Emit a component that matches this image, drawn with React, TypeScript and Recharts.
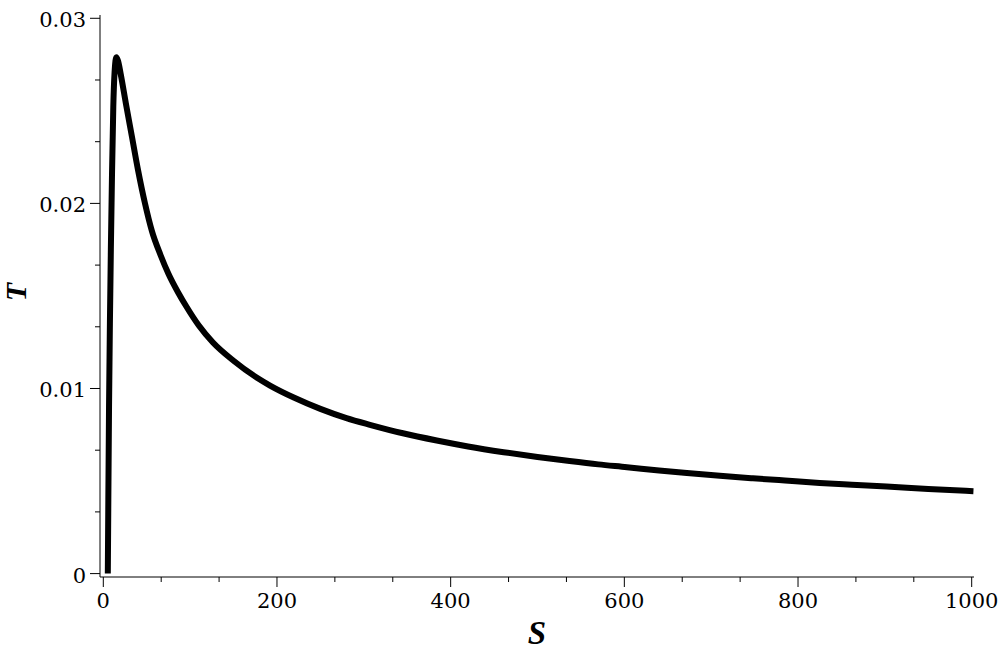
import React from "react";
import { LineChart, Line, XAxis, YAxis } from "recharts";

const sValues = [
  5.2, 5.8, 6.6, 7.6, 8.7, 10, 11.5, 13, 15, 17, 20, 26, 33, 40, 48, 56, 66, 75, 86,
  96, 110, 126, 150, 177, 192, 220, 250, 280, 307, 345, 384, 420, 461, 500, 537, 570,
  603, 640, 672, 710, 748, 785, 825, 862, 902, 950, 1002,
];
const tValues = [
  0, 0.004, 0.009, 0.0135, 0.0175, 0.0215, 0.0252, 0.0271, 0.0279, 0.0277, 0.027,
  0.0254, 0.0236, 0.0218, 0.02, 0.0185, 0.0172, 0.0162, 0.0152, 0.0144, 0.0134, 0.0125,
  0.0115, 0.01058, 0.01016, 0.0095, 0.0089, 0.0084, 0.00804, 0.00758, 0.00719, 0.00687,
  0.00656, 0.0063, 0.00608, 0.0059, 0.00575, 0.00557, 0.00543, 0.00528, 0.00515,
  0.00503, 0.0049, 0.0048, 0.0047, 0.00457, 0.00445,
];

const xMajorTicks = [0, 200, 400, 600, 800, 1000];
const yMajorTicks = [0, 0.01, 0.02, 0.03];
const yTickLabels = ["0", "0.01", "0.02", "0.03"];
const xTickLabels = ["0", "200", "400", "600", "800", "1000"];
const minorPerMajor = 3;

const xDomain: [number, number] = [-3.8, 1002.65];
const yDomain: [number, number] = [-0.000184, 0.030178];

const data = sValues.map((s, i) => ({ s, t: tValues[i] }));

function withMinor(majors: number[]): number[] {
  const out: number[] = [];
  for (let i = 0; i < majors.length; i++) {
    out.push(majors[i]);
    if (i < majors.length - 1) {
      const step = (majors[i + 1] - majors[i]) / minorPerMajor;
      for (let k = 1; k < minorPerMajor; k++) out.push(majors[i] + step * k);
    }
  }
  return out;
}

const xTicks = withMinor(xMajorTicks);
const yTicks = withMinor(yMajorTicks);

const TICK_FONT = "'DejaVu Serif', 'Liberation Serif', serif";
const TITLE_FONT = "'Liberation Serif', 'Times New Roman', serif";

function majorIndex(v: number, majors: number[]): number {
  const span = majors[majors.length - 1] - majors[0];
  for (let i = 0; i < majors.length; i++) {
    if (Math.abs(majors[i] - v) < span * 1e-6) return i;
  }
  return -1;
}

const XTick = (props: any) => {
  const { x, y, payload } = props;
  const idx = majorIndex(payload.value, xMajorTicks);
  const major = idx >= 0;
  return (
    <g>
      <line x1={x} y1={y} x2={x} y2={y + (major ? 10 : 5)} stroke="#000" strokeWidth={1} />
      {major && (
        <text
          x={x}
          y={y + 31}
          textAnchor="middle"
          fontFamily={TICK_FONT}
          fontSize={21}
          fill="#000"
        >
          {xTickLabels[idx]}
        </text>
      )}
    </g>
  );
};

const YTick = (props: any) => {
  const { x, y, payload } = props;
  const idx = majorIndex(payload.value, yMajorTicks);
  const major = idx >= 0;
  return (
    <g>
      <line x1={x} y1={y} x2={x - (major ? 10 : 5)} y2={y} stroke="#000" strokeWidth={1} />
      {major && (
        <text
          x={x - 14}
          y={y + 9}
          textAnchor="end"
          fontFamily={TICK_FONT}
          fontSize={21}
          fill="#000"
        >
          {yTickLabels[idx]}
        </text>
      )}
    </g>
  );
};

export default function App() {
  return (
    <div style={{ position: "absolute", left: 0, top: 0, width: 1000, height: 657, background: "#fff" }}>
      <LineChart
        width={1000}
        height={657}
        data={data}
        margin={{ top: 15, right: 26, left: 0, bottom: 0 }}
      >
        <XAxis
          dataKey="s"
          type="number"
          domain={xDomain}
          allowDataOverflow
          ticks={xTicks}
          interval={0}
          tickSize={0}
          tickMargin={0}
          tickLine={false}
          tick={<XTick />}
          axisLine={{ stroke: "#000", strokeWidth: 1 }}
          height={80}
        />
        <XAxis
          xAxisId="top"
          orientation="top"
          type="number"
          domain={xDomain}
          height={0}
          tick={false}
          tickLine={false}
          axisLine={{ stroke: "#000", strokeWidth: 1 }}
        />
        <YAxis
          type="number"
          domain={yDomain}
          allowDataOverflow
          ticks={yTicks}
          interval={0}
          tickSize={0}
          tickMargin={0}
          tickLine={false}
          tick={<YTick />}
          axisLine={{ stroke: "#000", strokeWidth: 1 }}
          width={100}
        />
        <YAxis
          yAxisId="right"
          orientation="right"
          type="number"
          domain={yDomain}
          width={0}
          tick={false}
          tickLine={false}
          axisLine={{ stroke: "#000", strokeWidth: 1 }}
        />
        <Line
          dataKey="t"
          type="monotone"
          stroke="#000"
          strokeWidth={6}
          strokeLinejoin="round"
          dot={false}
          activeDot={false}
          isAnimationActive={false}
        />
      </LineChart>
      <svg
        width={1000}
        height={657}
        style={{ position: "absolute", left: 0, top: 0, pointerEvents: "none" }}
      >
        <text
          x={26}
          y={292}
          transform="rotate(-90, 26, 292)"
          textAnchor="middle"
          fontFamily={TITLE_FONT}
          fontWeight="bold"
          fontStyle="italic"
          fontSize={30}
          fill="#000"
        >
          T
        </text>
        <text
          x={537}
          y={644}
          textAnchor="middle"
          fontFamily={TITLE_FONT}
          fontWeight="bold"
          fontStyle="italic"
          fontSize={33}
          fill="#000"
        >
          S
        </text>
      </svg>
    </div>
  );
}
